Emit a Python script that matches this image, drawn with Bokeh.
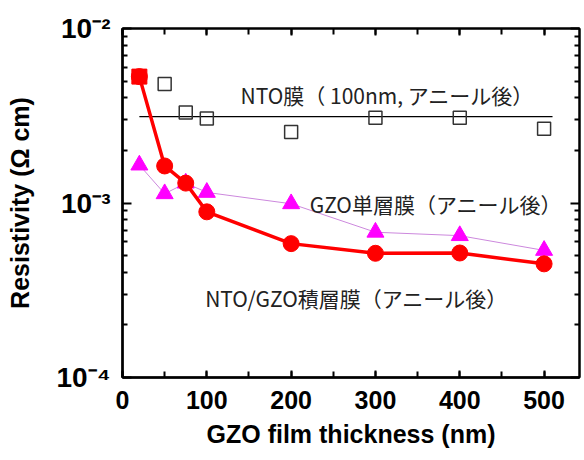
from bokeh.plotting import figure
from bokeh.models import (LogAxis, LinearAxis, FixedTicker, SingleIntervalTicker,
                          Range1d, ColumnDataSource, CustomJSTickFormatter)
from bokeh.embed import file_html
from bokeh.resources import INLINE
from bokeh.core.properties import value

# ---- data ----
thickness = [20, 50, 75, 100, 200, 300, 400, 500]
stack_res = [5.3e-3, 1.63e-3, 1.30e-3, 8.9e-4, 5.85e-4, 5.15e-4, 5.17e-4, 4.48e-4]
gzo_res = [1.65e-3, 1.13e-3, 1.30e-3, 1.15e-3, 9.9e-4, 6.8e-4, 6.5e-4, 5.35e-4]
nto_x = [50, 75, 100, 200, 300, 400, 500]
nto_res = [4.8e-3, 3.3e-3, 3.05e-3, 2.55e-3, 3.08e-3, 3.08e-3, 2.66e-3]
nto_level_x = [20, 510]
nto_level_y = [3.13e-3, 3.13e-3]

y_exponents = [-4, -3, -2]
y_tick_labels = ["10\u207b\u2074", "10\u207b\u00b3", "10\u207b\u00b2"]

note_text = ["NTO膜（ 100nm, アニール後）", "GZO単層膜（アニール後）", "NTO/GZO積層膜（アニール後）"]
note_x = [140, 222, 98]
note_y = [4.15e-3, 9.9e-4, 2.87e-4]

x_title = "GZO film thickness (nm)"
y_title = "Resistivity (Ω cm)"

LATIN = "Liberation Sans"
CJK = "Noto Sans CJK JP"

y_major = [10.0 ** e for e in y_exponents]
y_minor = [m * 10.0 ** e for e in y_exponents[:-1] for m in range(2, 10)]

p = figure(width=582, height=458, x_range=Range1d(0, 542), y_range=Range1d(1e-4, 1e-2),
           y_axis_type="log", output_backend="svg", toolbar_location=None,
           min_border_left=122, min_border_right=3, min_border_top=28, min_border_bottom=81)
p.xgrid.visible = False
p.ygrid.visible = False
p.outline_line_color = "black"
p.outline_line_width = 2
p.background_fill_color = "white"
p.border_fill_color = "white"

# bottom axis
xa = p.xaxis[0]
xa.ticker = SingleIntervalTicker(interval=100, num_minor_ticks=2)
xa.major_tick_in = 7
xa.major_tick_out = 0
xa.minor_tick_in = 6
xa.minor_tick_out = 0
xa.axis_line_width = 2.5
xa.major_tick_line_width = 2
xa.minor_tick_line_width = 2
xa.major_label_standoff = 13
xa.major_label_text_font = LATIN
xa.major_label_text_font_style = "bold"
xa.major_label_text_font_size = "25px"
xa.major_label_text_color = "black"
xa.axis_label = x_title
xa.axis_label_text_font = LATIN
xa.axis_label_text_font_style = "bold"
xa.axis_label_text_font_size = "25px"
xa.axis_label_text_color = "black"
xa.axis_label_standoff = 8

# left axis
ya = p.yaxis[0]
ya.ticker = FixedTicker(ticks=y_major, minor_ticks=y_minor)
ya.formatter = CustomJSTickFormatter(
    args=dict(exps=y_exponents, labels=y_tick_labels),
    code="const e = Math.round(Math.log10(tick)); const i = exps.indexOf(e); return i >= 0 ? labels[i] : '';")
ya.major_tick_in = 9
ya.major_tick_out = 0
ya.minor_tick_in = 5
ya.minor_tick_out = 0
ya.axis_line_width = 2.5
ya.major_tick_line_width = 2
ya.minor_tick_line_width = 2
ya.major_label_standoff = 12
ya.major_label_text_font = LATIN
ya.major_label_text_font_style = "bold"
ya.major_label_text_font_size = "28px"
ya.major_label_text_color = "black"
ya.axis_label = y_title
ya.axis_label_text_font = LATIN
ya.axis_label_text_font_style = "bold"
ya.axis_label_text_font_size = "25px"
ya.axis_label_text_color = "black"
ya.axis_label_standoff = 20

# top and right axes (ticks only)
top = LinearAxis(ticker=SingleIntervalTicker(interval=100, num_minor_ticks=2),
                 formatter=CustomJSTickFormatter(code="return ''"),
                 major_tick_in=7, major_tick_out=0, minor_tick_in=6, minor_tick_out=0,
                 major_label_standoff=0,
                 axis_line_width=2, major_tick_line_width=2, minor_tick_line_width=2)
right = LogAxis(ticker=FixedTicker(ticks=y_major, minor_ticks=y_minor),
                formatter=CustomJSTickFormatter(code="return ''"),
                major_tick_in=9, major_tick_out=0, minor_tick_in=5, minor_tick_out=0,
                major_label_standoff=0,
                axis_line_width=2, major_tick_line_width=2, minor_tick_line_width=2)
p.add_layout(top, "above")
p.add_layout(right, "right")

# NTO single films
p.line(nto_level_x, nto_level_y, line_color="black", line_width=1.2)
p.scatter(nto_x, nto_res, marker="square", size=13, fill_color=None,
          line_color="#333333", line_width=1.5)

# GZO single layer
p.line(thickness, gzo_res, line_color="#cc88dd", line_width=1)
p.scatter(thickness, gzo_res, marker="triangle", size=17, fill_color="#ff00ff",
          line_color="#ff00ff")

# NTO/GZO stacked
p.line(thickness, stack_res, line_color="#ff0000", line_width=3.5)
p.scatter(thickness[:1], stack_res[:1], marker="square", size=15, fill_color="#ff0000",
          line_color="#ff0000")
p.scatter(thickness, stack_res, marker="circle", size=16, fill_color="#ff0000",
          line_color="#ff0000")

# annotations
src = ColumnDataSource(dict(x=note_x, y=note_y, t=note_text))
p.text(x="x", y="y", text="t", source=src, text_font=value(CJK), text_font_size="21px",
       text_baseline="middle", text_align="left", text_color="#222222")

open("out.html", "w").write(file_html(p, INLINE))
